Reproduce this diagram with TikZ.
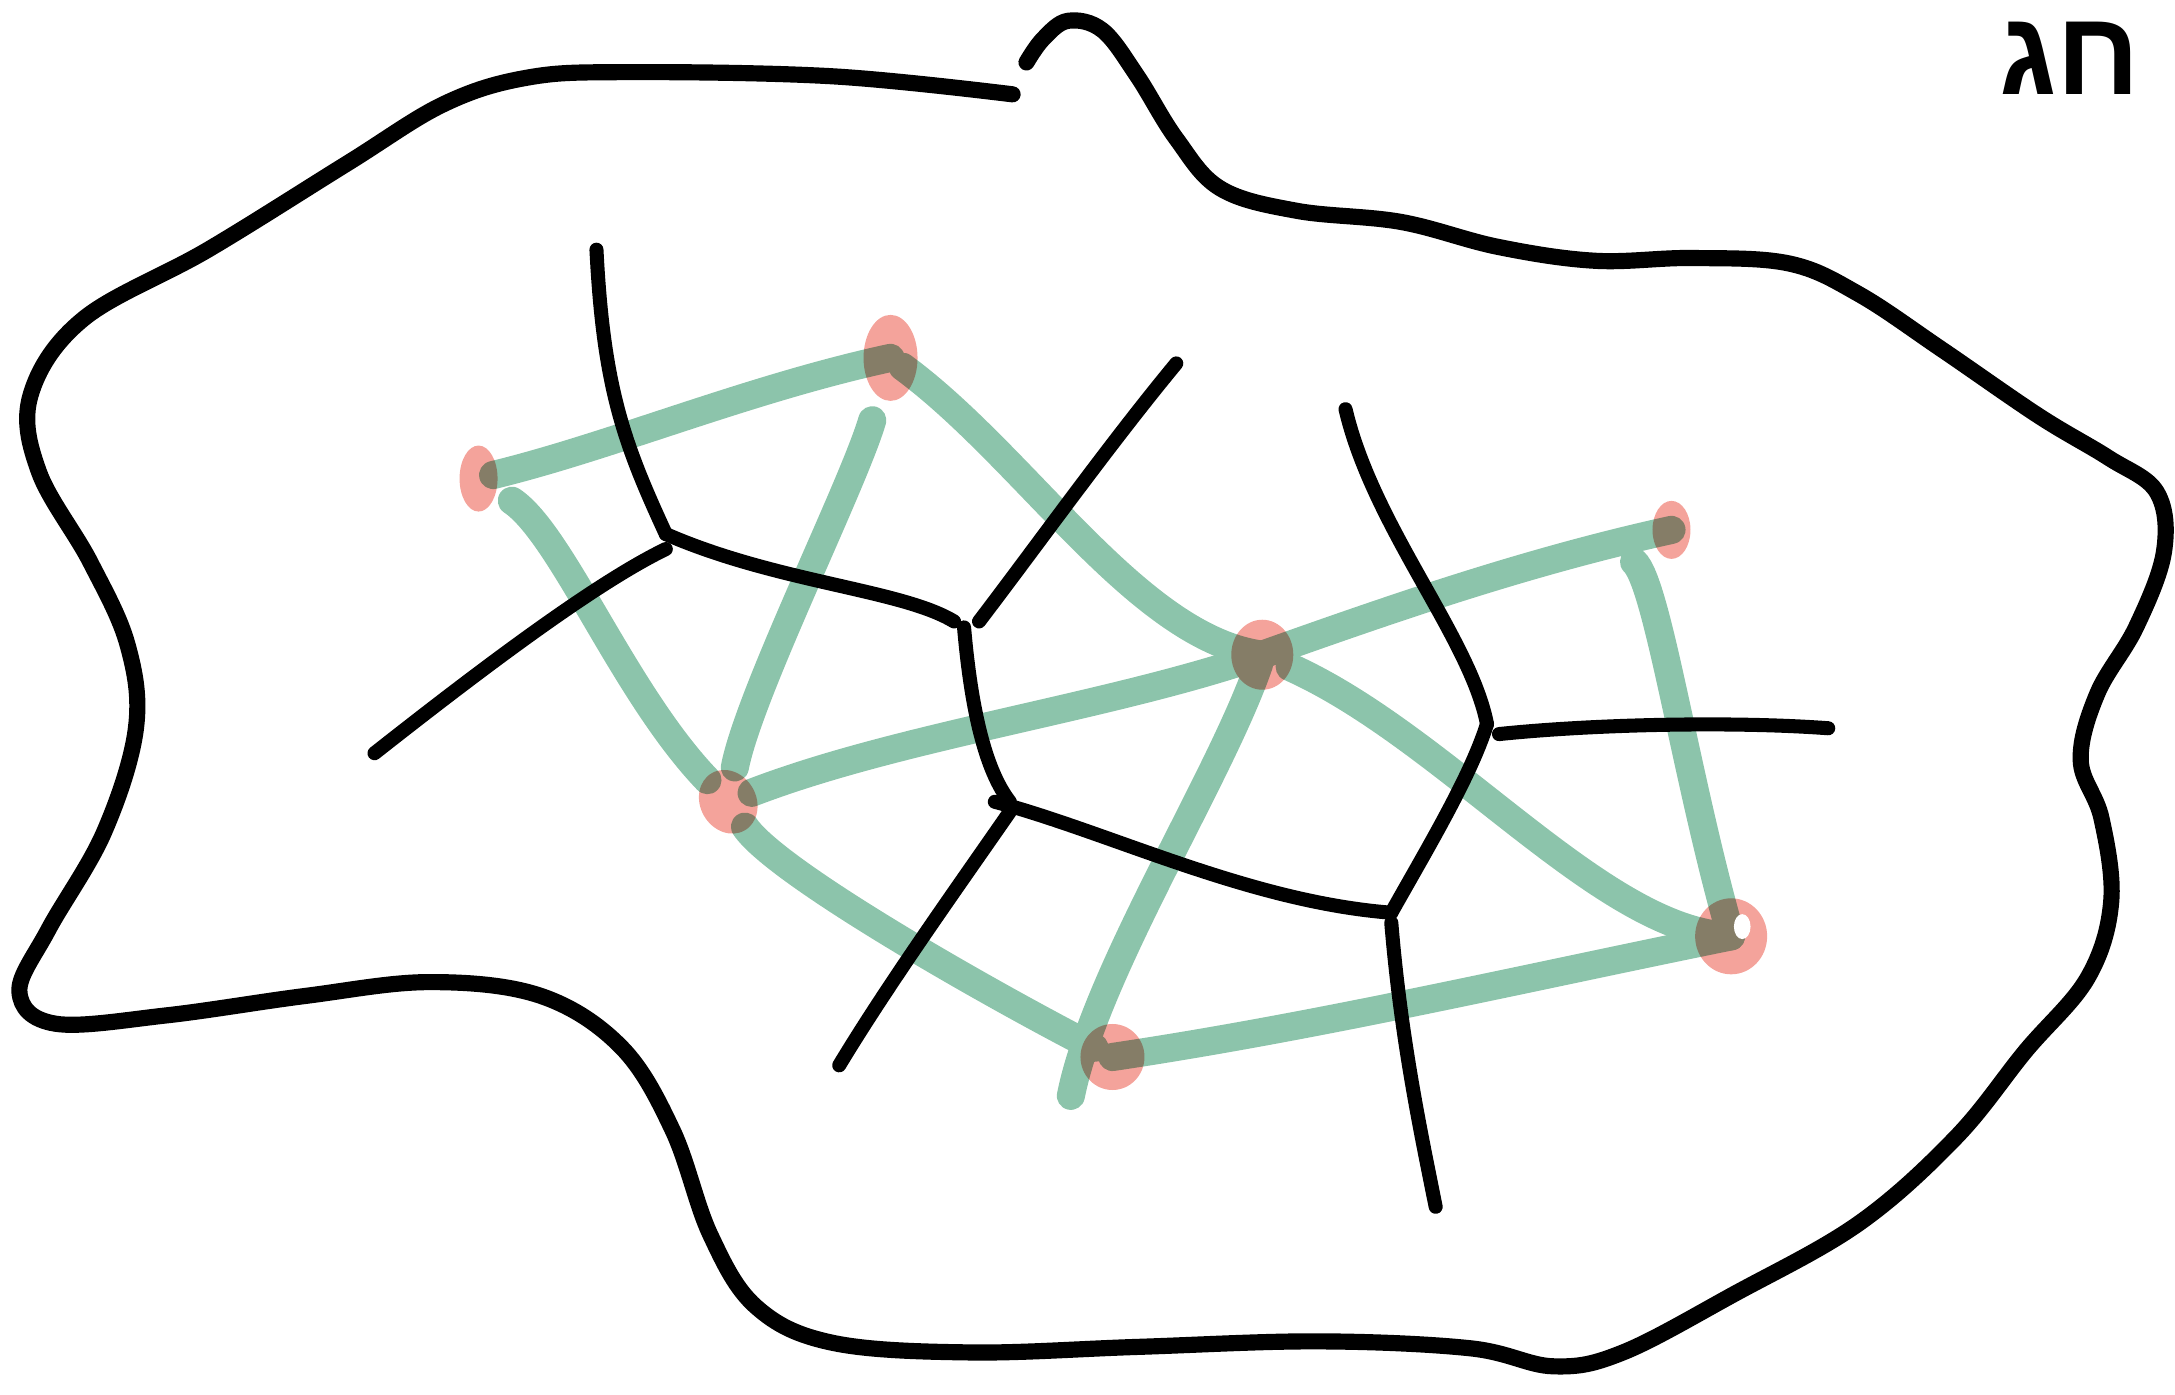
\documentclass[tikz,border=0pt]{standalone}
\usepackage{fontspec}
\newfontfamily\hebfont[Script=Hebrew]{Liberation Sans}
\TeXXeTstate=1
\usetikzlibrary{positioning,shapes.geometric}

\definecolor{sitered}{HTML}{F4A39B}
\definecolor{delgreen}{HTML}{8CC4AB}

\pgfdeclarelayer{front}
\pgfsetlayers{main,front}

\begin{document}
\begin{tikzpicture}[
  x=0.1387mm, y=-0.1387mm,
  site/.style={ellipse, fill=sitered, inner sep=0pt},
  deledge/.style={draw=delgreen, line width=8pt, line cap=round},
  voredge/.style={draw=black, line width=4pt, line cap=round, line join=round},
  border/.style={draw=black, line width=4.6pt, line cap=round}
]
\useasboundingbox (0,0) rectangle (1568,1005);

% sites
\begin{pgfonlayer}{front}
\begin{scope}[blend mode=multiply]
\node[site, minimum width=3.8mm, minimum height=6.6mm] (p1) at (345,345) {};
\node[site, minimum width=5.4mm, minimum height=8.6mm] (p2) at (642,258) {};
\node[site, minimum width=6.2mm, minimum height=7mm] (p3) at (910,472) {};
\node[site, minimum width=3.8mm, minimum height=5.8mm] (p4) at (1205,382) {};
\node[site, minimum width=5.6mm, minimum height=6.6mm, rotate=30] (p5) at (525,578) {};
\node[site, minimum width=6.4mm, minimum height=6.6mm] (p6) at (802,762) {};
\node[site, minimum width=7.2mm, minimum height=7.6mm] (p7) at (1248,675) {};
\end{scope}
\fill[white] (1256,668) ellipse (6 and 9);
\end{pgfonlayer}

% free ends
\coordinate (e6) at (772,790);
\coordinate (s4) at (1178,405);

% delaunay
\draw[deledge, shorten <=1.5mm] (p1.center) .. controls (440,322) and (540,280) .. (p2.center);
\draw[deledge, shorten <=4mm, shorten >=3mm] (p1.center) .. controls (405,385) and (450,500) .. (p5.center);
\draw[deledge, shorten <=6.5mm, shorten >=3.5mm] (p2.center) .. controls (615,350) and (540,500) .. (p5.center);
\draw[deledge, shorten <=1.5mm] (p2.center) .. controls (740,330) and (820,460) .. (p3.center);
\draw[deledge, shorten <=2.5mm] (p5.center) .. controls (650,530) and (800,510) .. (p3.center);
\draw[deledge] (p3.center) .. controls (1000,440) and (1100,405) .. (p4.center);
\draw[deledge, shorten <=1mm] (p3.center) .. controls (880,560) and (790,700) .. (e6);
\draw[deledge, shorten <=3mm, shorten >=1mm] (p3.center) .. controls (1040,530) and (1150,665) .. (p7.center);
\draw[deledge] (s4) .. controls (1195,420) and (1215,560) .. (p7.center);
\draw[deledge, shorten <=3mm, shorten >=2mm] (p5.center) .. controls (560,630) and (720,720) .. (p6.center);
\draw[deledge] (p6.center) .. controls (950,740) and (1100,705) .. (p7.center);

% voronoi
\coordinate (v1) at (480,385);
\coordinate (v2) at (695,448);
\coordinate (v3) at (728,578);
\coordinate (v4) at (1003,658);
\coordinate (v5) at (1072,522);
\coordinate (a1) at (430,180);
\coordinate (a2) at (270,543);
\coordinate (a3) at (848,262);
\coordinate (a4) at (605,768);
\coordinate (a5) at (1035,870);
\coordinate (a6) at (970,295);
\coordinate (a7) at (1318,525);

\draw[voredge] (a1) .. controls (435,280) and (450,320) .. (v1);
\draw[voredge] (v1) .. controls (560,420) and (650,425) .. ([xshift=-1mm]v2);
\draw[voredge] ([yshift=-1.5mm]v1) .. controls (430,420) and (350,480) .. (a2);
\draw[voredge] ([xshift=1.5mm]v2) .. controls (750,390) and (800,320) .. (a3);
\draw[voredge] ([yshift=-0.6mm]v2) .. controls (700,510) and (710,555) .. (v3);
\draw[voredge] ([yshift=-1mm]v3) .. controls (690,640) and (640,710) .. (a4);
\draw[voredge] ([xshift=-1.5mm]v3) .. controls (800,600) and (900,650) .. (v4);
\draw[voredge] ([yshift=-1mm]v4) .. controls (1010,750) and (1025,820) .. (a5);
\draw[voredge] (v4) .. controls (1030,610) and (1060,560) .. (v5);
\draw[voredge] (v5) .. controls (1060,460) and (990,380) .. (a6);
\draw[voredge] ([xshift=1.2mm, yshift=-1mm]v5) .. controls (1150,522) and (1250,520) .. (a7);

% domain
\draw[border] plot[smooth, tension=0.6] coordinates {
  (730,68) (600,55) (450,52) (380,56) (320,75) (250,118) (150,180) (60,230) (22,285)
  (28,340) (65,405) (92,465) (98,525) (75,600) (35,670) (14,715) (40,738) (120,732)
  (220,718) (310,708) (390,718) (448,755) (485,815) (512,890) (545,942) (600,968)
  (700,975) (820,971) (950,967) (1060,972) (1120,985) (1170,975) (1250,933) (1340,882)
  (1410,820) (1460,758) (1505,705) (1522,650) (1515,590) (1500,548) (1512,500)
  (1540,452) (1560,398) (1555,355) (1520,330) (1470,300) (1400,252) (1340,212)
  (1290,190) (1220,186) (1150,188) (1080,178) (1010,160) (935,152) (880,136) (848,100)
  (820,55) (795,22) (770,15) (752,28) (740,45)};

% label
\node[font=\hebfont\bfseries\fontsize{34}{34}\selectfont, anchor=base] (lbl) at (1492,68) {\beginR חג\endR};
\end{tikzpicture}
\end{document}
